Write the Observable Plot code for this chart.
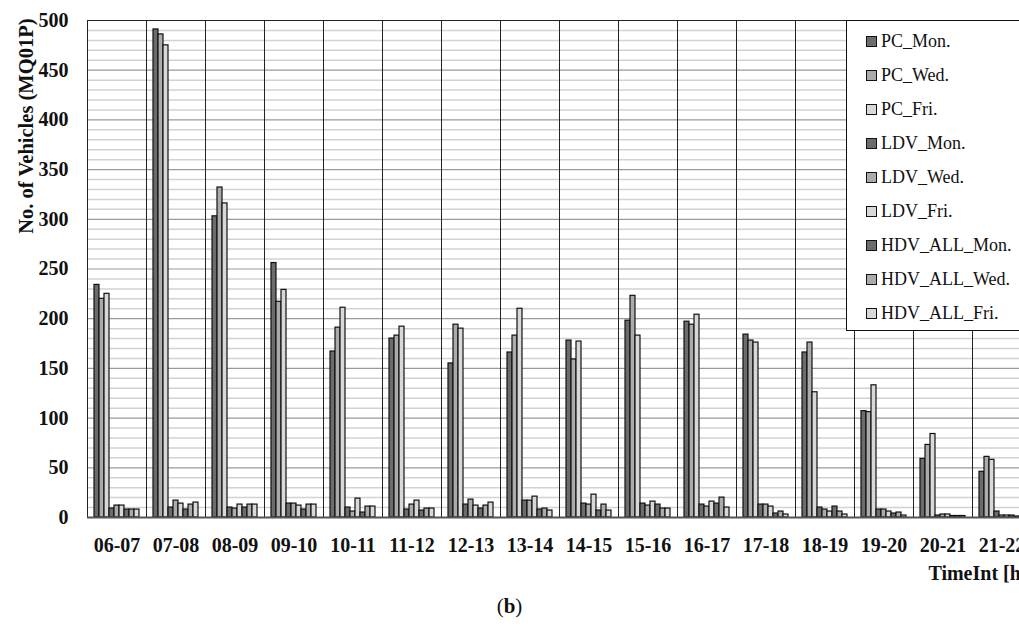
<!DOCTYPE html>
<html>
<head>
<meta charset="utf-8">
<script src="https://cdn.jsdelivr.net/npm/d3@7"></script>
<script src="https://cdn.jsdelivr.net/npm/@observablehq/plot@0.6"></script>
<style>
  html, body { margin: 0; padding: 0; background: #fff; }
  #wrap { position: relative; width: 1019px; height: 628px; overflow: hidden; background: #fff; }
  #chart svg { max-width: none !important; display: block; }
  #legend { position: absolute; left: 846px; top: 20px; width: 220px; height: 311px; border: 1px solid #111; background: #fff; box-sizing: border-box; }
  .item { position: absolute; left: 19px; height: 22px; display: flex; align-items: center; font-family: "Liberation Serif", serif; font-size: 18px; color: #111; white-space: nowrap; }
  .sw { width: 9px; height: 9px; border: 1.5px solid #111; margin-right: 4px; }
  #cap { position: absolute; left: 0; top: 594px; width: 1019px; text-align: center; font-family: "Liberation Serif", serif; font-size: 21px; color: #111; }
</style>
</head>
<body>
<div id="wrap">
  <div id="chart"></div>
  <div id="legend"></div>
  <div id="cap">(<b>b</b>)</div>
</div>
<script>
const categories = ["06-07","07-08","08-09","09-10","10-11","11-12","12-13","13-14","14-15","15-16","16-17","17-18","18-19","19-20","20-21","21-22"];
const series = ["PC_Mon.","PC_Wed.","PC_Fri.","LDV_Mon.","LDV_Wed.","LDV_Fri.","HDV_ALL_Mon.","HDV_ALL_Wed.","HDV_ALL_Fri."];
const colors = ["#6f6b6b","#ababab","#d8d8d8","#6f6b6b","#ababab","#d8d8d8","#6f6b6b","#ababab","#d8d8d8"];

const pcMon  = [234, 491, 303, 256, 167, 180, 155, 166, 178, 198, 197, 184, 166, 107, 59, 46];
const pcWed  = [220, 486, 332, 217, 191, 183, 194, 183, 159, 223, 194, 178, 176, 106, 73, 61];
const pcFri  = [225, 475, 316, 229, 211, 192, 190, 210, 177, 183, 204, 176, 126, 133, 84, 58];
const ldvMon = [9, 10, 10, 14, 10, 8, 13, 17, 14, 14, 13, 13, 10, 8, 2, 6];
const ldvWed = [12, 17, 9, 14, 6, 13, 18, 17, 13, 12, 11, 13, 8, 8, 3, 2];
const ldvFri = [12, 14, 13, 12, 19, 17, 12, 21, 23, 16, 16, 11, 6, 6, 3, 2];
const hdvMon = [8, 8, 10, 8, 5, 7, 9, 8, 7, 13, 14, 4, 11, 4, 1.5, 2];
const hdvWed = [8, 13, 13, 13, 11, 9, 12, 9, 13, 9, 20, 6, 6, 5, 1.5, 1];
const hdvFri = [8, 15, 13, 13, 11, 9, 15, 7, 7, 9, 10, 3, 3, 2, 1.5, 1];

const yTicks = [0, 50, 100, 150, 200, 250, 300, 350, 400, 450, 500];
const yMinor = [10,20,30,40,60,70,80,90,110,120,130,140,160,170,180,190,210,220,230,240,260,270,280,290,310,320,330,340,360,370,380,390,410,420,430,440,460,470,480,490];

const seriesValues = [pcMon, pcWed, pcFri, ldvMon, ldvWed, ldvFri, hdvMon, hdvWed, hdvFri];
const rows = [];
categories.forEach((c, i) => {
  series.forEach((s, j) => rows.push({cat: c, series: s, value: seriesValues[j][i]}));
});

const chart = Plot.plot({
  width: 1040,
  height: 594,
  marginLeft: 87,
  marginRight: 9,
  marginTop: 20,
  marginBottom: 77,
  style: {fontFamily: "Liberation Serif, serif", fontSize: "20px", fontWeight: "bold", color: "#111", background: "#fff", maxWidth: "none"},
  fx: {domain: categories, padding: 0, label: null, tickSize: 0, tickPadding: 20},
  x: {domain: series, paddingInner: 0, paddingOuter: 0.58, axis: null},
  y: {domain: [0, 500], ticks: yTicks, tickSize: 0, tickPadding: 19, label: null},
  color: {domain: series, range: colors},
  marks: [
    Plot.ruleY(yMinor, {stroke: "#d2d2d2", strokeWidth: 1.5}),
    Plot.ruleY(yTicks.slice(1, -1), {stroke: "#9a9a9a", strokeWidth: 1.2}),
    Plot.barY(rows, {fx: "cat", x: "series", y: "value", fill: "series", stroke: "#111", strokeWidth: 1.2}),
    Plot.frame({stroke: "#222", strokeWidth: 1}),
    Plot.ruleY([0], {stroke: "#555", strokeWidth: 2.2}),
    Plot.text([{fx: categories[0], t: "No. of Vehicles (MQ01P)"}], {fx: "fx", text: "t", frameAnchor: "top-left", dx: -69, dy: -2, rotate: -90, textAnchor: "end", fontSize: 20.5, fontWeight: "bold", fill: "#111"}),
    Plot.text([{fx: categories[categories.length - 1], t: "TimeInt [h]"}], {fx: "fx", text: "t", frameAnchor: "bottom-right", dx: -4, dy: 62, textAnchor: "end", fontSize: 20, fontWeight: "bold", fill: "#111"})
  ]
});
document.getElementById("chart").appendChild(chart);

const legend = document.getElementById("legend");
series.forEach((s, i) => {
  const it = document.createElement("div");
  it.className = "item";
  it.style.top = (9 + i * 34) + "px";
  const sw = document.createElement("div");
  sw.className = "sw";
  sw.style.background = colors[i];
  const tx = document.createElement("span");
  tx.textContent = s;
  it.appendChild(sw);
  it.appendChild(tx);
  legend.appendChild(it);
});
</script>
</body>
</html>
